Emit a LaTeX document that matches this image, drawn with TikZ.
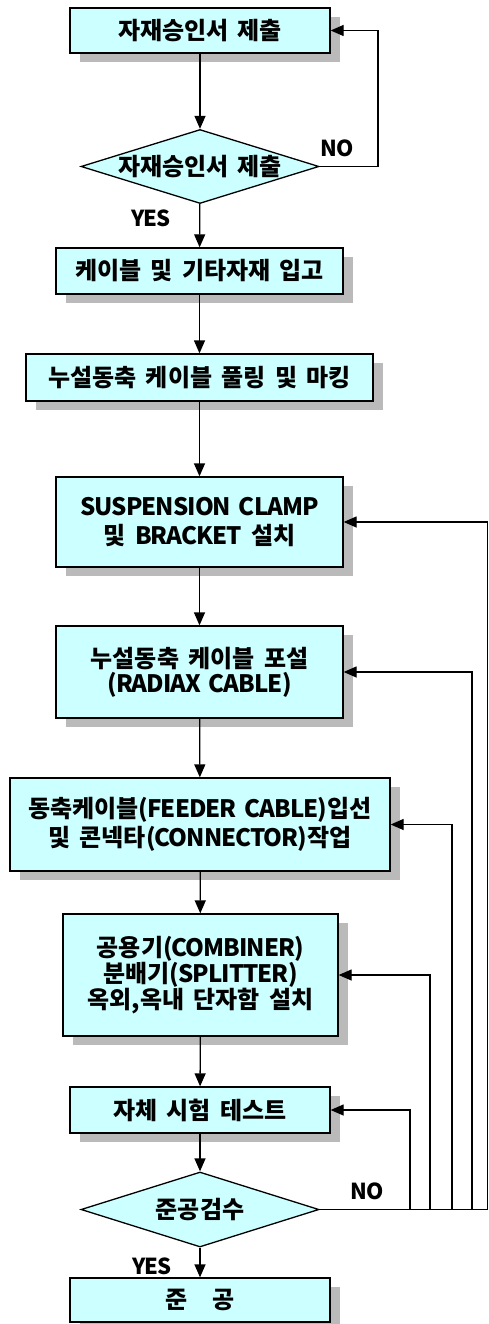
\documentclass[tikz,border=0pt]{standalone}
\usepackage{fontspec}
\newfontfamily\kf{Noto Sans CJK KR}[WordSpace=1.7]
\newcommand\latn[1]{{\addfontfeatures{LetterSpace=-4}#1}}
\usetikzlibrary{arrows.meta,shapes.geometric,shadows}
\definecolor{boxfill}{HTML}{CCFFFF}
\definecolor{shgray}{HTML}{BABABA}
\tikzset{
  box/.style={draw=black, line width=1.3pt, fill=boxfill, rectangle, inner sep=0pt, align=center,
    drop shadow={shadow xshift=10pt, shadow yshift=-9pt, fill=shgray, opacity=1},
    font=\kf\bfseries\fontsize{24}{29}\selectfont},
  dec/.style={draw=black, line width=1.3pt, fill=boxfill, diamond, inner sep=0pt,
    minimum width=238pt, minimum height=74pt},
  dtext/.style={inner sep=0pt, font=\kf\bfseries\fontsize{24}{29}\selectfont},
  lbl/.style={inner sep=0pt, font=\kf\bfseries\fontsize{22}{26}\selectfont},
  conn/.style={draw=black, line width=1.3pt},
  arr/.style={conn, -{Triangle[length=13pt,width=11pt]}}
}
\begin{document}
\begin{tikzpicture}[x=1pt,y=-1pt]
\useasboundingbox (0,0) rectangle (489,1324);
\fill[white] (0,0) rectangle (489,1324);

\node[box, minimum width=260pt, minimum height=45pt] (b1) at (200,30.5) {자재승인서 제출};
\node[dec] (d1) at (200,166.5) {};
\node[dtext] (d1t) at (200,166.5) {자재승인서 제출};
\node[box, minimum width=287pt, minimum height=46pt] (b2) at (199.5,271) {케이블 및 기타자재 입고};
\node[box, minimum width=347pt, minimum height=47pt] (b3) at (199.5,377.5) {누설동축 케이블 풀링 및 마킹};
\node[box, minimum width=287pt, minimum height=90pt] (b4) at (199.5,522) {\latn{SUSPENSION CLAMP}\\및 \latn{BRACKET} 설치};
\node[box, minimum width=287pt, minimum height=92pt, font=\kf\bfseries\fontsize{24}{25}\selectfont] (b5) at (199.5,672) {누설동축 케이블 포설\\\latn{(RADIAX CABLE)}};
\node[box, minimum width=380pt, minimum height=93pt] (b6) at (200,824.5) {동축케이블\latn{(FEEDER CABLE)}입선\\및 콘넥타\latn{(CONNECTOR)}작업};
\node[box, minimum width=275pt, minimum height=122pt, font=\kf\bfseries\fontsize{24}{25}\selectfont] (b7) at (200.5,975) {공용기\latn{(COMBINER)}\\분배기\latn{(SPLITTER)}\\옥외,옥내 단자함 설치};
\node[box, minimum width=260pt, minimum height=46pt] (b8) at (200,1110) {자체 시험 테스트};
\node[dec, minimum height=75pt] (d2) at (200,1209.5) {};
\node[dtext] (d2t) at (200,1209.5) {준공검수};
\node[box, minimum width=260pt, minimum height=44pt] (b9) at (200,1300) {준\hspace{1em}공};

% labels
\node[lbl] (no1) at (337,148) {\latn{NO}};
\node[lbl] (yes1) at (151,218) {\latn{YES}};
\node[lbl] (no2) at (367,1191) {\latn{NO}};
\node[lbl] (yes2) at (152,1266) {\latn{YES}};

% main flow
\draw[arr] (b1) -- (d1);
\draw[arr] (d1) -- (b2);
\draw[arr] (b2) -- (b3);
\draw[arr] (b3) -- (b4);
\draw[arr] (b4) -- (b5);
\draw[arr] (b5) -- (b6);
\draw[arr] (b6) -- (b7);
\draw[arr] (b7) -- (b8);
\draw[arr] (b8) -- (d2);
\draw[arr] (d2) -- (b9);

% first loop
\coordinate (c1) at (378,166.5);
\draw[arr] (d1.east) -- (c1) |- (b1.east);

% feedback from final check
\coordinate (r0) at (487.5,1209.5);
\coordinate (j1) at (410,1209.5);
\coordinate (j2) at (430,1209.5);
\coordinate (j3) at (452,1209.5);
\coordinate (j4) at (472,1209.5);
\draw[conn] (d2.east) -- (r0);
\draw[arr] (r0) |- (b4.east);
\draw[arr] (j4) |- (b5.east);
\draw[arr] (j3) |- (b6.east);
\draw[arr] (j2) |- (b7.east);
\draw[arr] (j1) |- (b8.east);
\end{tikzpicture}
\end{document}
